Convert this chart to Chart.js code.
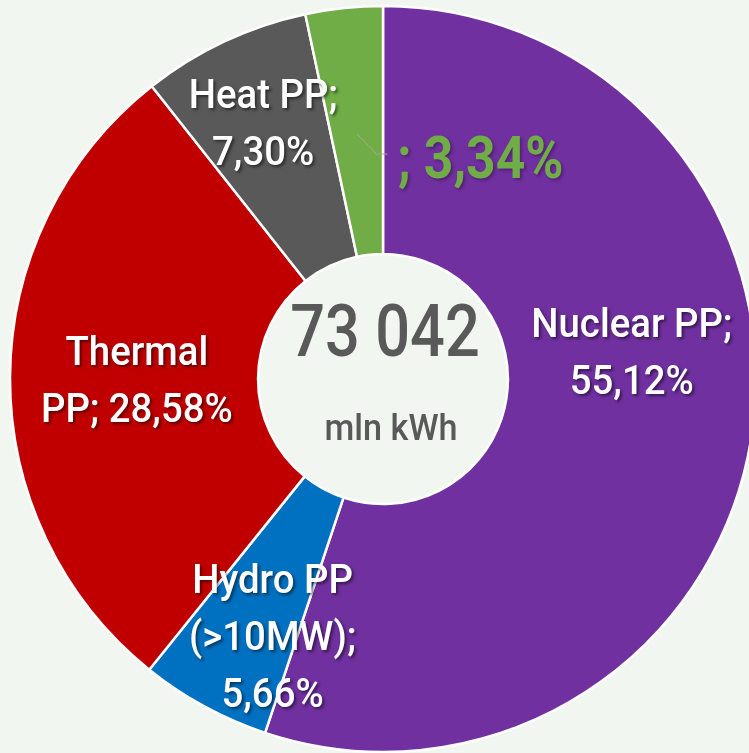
<!DOCTYPE html>
<html>
<head>
<meta charset="utf-8">
<script src="https://cdn.jsdelivr.net/npm/chart.js@4/dist/chart.umd.min.js"></script>
<style>
  html, body { margin: 0; padding: 0; width: 749px; height: 753px; overflow: hidden; background: #f2f6f0; }
  #c { position: absolute; left: 0; top: 0; }
</style>
</head>
<body>
<canvas id="c" width="766" height="758"></canvas>
<script>
// ---- data ----
const categories = ['Nuclear PP', 'Hydro PP (>10MW)', 'Thermal PP', 'Heat PP', ''];
const shares = [55.12, 5.66, 28.58, 7.30, 3.34];
const sliceLabels = [
  ['Nuclear PP;', '55,12%'],
  ['Hydro PP', '(>10MW);', '5,66%'],
  ['Thermal', 'PP; 28,58%'],
  ['Heat PP;', '7,30%'],
  ['; 3,34%']
];
const colors = ['#7030a0', '#0070c0', '#c00000', '#595959', '#70ad47'];
const totalLabel = '73 042';
const unitLabel = 'mln kWh';

// label placement relative to each arc (angle shift in degrees, radius fraction)
const placement = [
  { dA: -14.7, k: 0.67 },
  { dA: -5.7, k: 0.76 },
  { dA: -1.4, k: 0.66 },
  { dA: -0.2, k: 0.75 },
  { dA: 30.1, k: 0.64, outside: true }
];

const labelPlugin = {
  id: 'sliceLabels',
  afterDatasetsDraw(chart) {
    const ctx = chart.ctx;
    const meta = chart.getDatasetMeta(0);
    meta.data.forEach((arc, i) => {
      const p = arc.getProps(['x', 'y', 'startAngle', 'endAngle', 'outerRadius'], true);
      const mid = (p.startAngle + p.endAngle) / 2;
      const pl = placement[i];
      const a = mid + pl.dA * Math.PI / 180;
      const lx = p.x + Math.cos(a) * pl.k * p.outerRadius;
      const ly = p.y + Math.sin(a) * pl.k * p.outerRadius;
      const lines = sliceLabels[i];
      ctx.save();
      ctx.textAlign = 'center';
      ctx.textBaseline = 'middle';
      if (pl.outside) {
        const sxScale = 0.86;
        ctx.font = 'bold 60px Roboto';
        const w = ctx.measureText(lines[0]).width * sxScale;
        // leader line
        const sx = p.x + Math.cos(mid) * 0.66 * p.outerRadius;
        const sy = p.y + Math.sin(mid) * 0.66 * p.outerRadius;
        const ex = lx - w / 2 - 10;
        const ey = ly - 7;
        ctx.strokeStyle = '#a6a6a6';
        ctx.lineWidth = 1;
        ctx.beginPath();
        ctx.moveTo(sx, sy);
        ctx.lineTo(ex - 11, ey);
        ctx.lineTo(ex, ey);
        ctx.stroke();
        ctx.shadowColor = 'rgba(60,20,80,0.55)';
        ctx.shadowOffsetX = 2;
        ctx.shadowOffsetY = 2;
        ctx.shadowBlur = 3;
        ctx.fillStyle = colors[i];
        ctx.translate(lx, ly + 2);
        ctx.scale(sxScale, 1);
        ctx.fillText(lines[0], 0, 0);
      } else {
        ctx.font = '500 40px Roboto';
        ctx.fillStyle = '#ffffff';
        ctx.shadowColor = 'rgba(0,0,0,0.5)';
        ctx.shadowOffsetX = 2;
        ctx.shadowOffsetY = 2;
        ctx.shadowBlur = 3;
        const lh = 57;
        const y0 = ly - (lines.length - 1) * lh / 2;
        lines.forEach((t, j) => {
          ctx.save();
          ctx.translate(lx, y0 + j * lh);
          ctx.scale(0.96, 1);
          ctx.fillText(t, 0, 0);
          ctx.restore();
        });
      }
      ctx.restore();
    });

    // centre text
    const c0 = meta.data[0].getProps(['x', 'y'], true);
    ctx.save();
    ctx.fillStyle = '#595959';
    ctx.textAlign = 'center';
    ctx.textBaseline = 'middle';
    ctx.font = '500 73px Roboto';
    ctx.translate(c0.x + 2, c0.y - 41);
    ctx.scale(0.84, 1);
    ctx.fillText(totalLabel, 0, 0);
    ctx.restore();
    ctx.save();
    ctx.fillStyle = '#595959';
    ctx.textAlign = 'center';
    ctx.textBaseline = 'middle';
    ctx.font = '500 36px Roboto';
    ctx.translate(c0.x + 8, c0.y + 52);
    ctx.scale(0.95, 1);
    ctx.fillText(unitLabel, 0, 0);
    ctx.restore();
  }
};

new Chart(document.getElementById('c'), {
  type: 'doughnut',
  data: {
    labels: categories,
    datasets: [{
      data: shares,
      backgroundColor: colors,
      borderColor: '#ffffff',
      borderWidth: 2.5,
      hoverOffset: 0
    }]
  },
  options: {
    responsive: false,
    animation: false,
    devicePixelRatio: 1,
    cutout: '33.5%',
    radius: 373,
    layout: { padding: 0 },
    plugins: {
      legend: { display: false },
      tooltip: { enabled: false }
    }
  },
  plugins: [labelPlugin]
});
</script>
</body>
</html>
